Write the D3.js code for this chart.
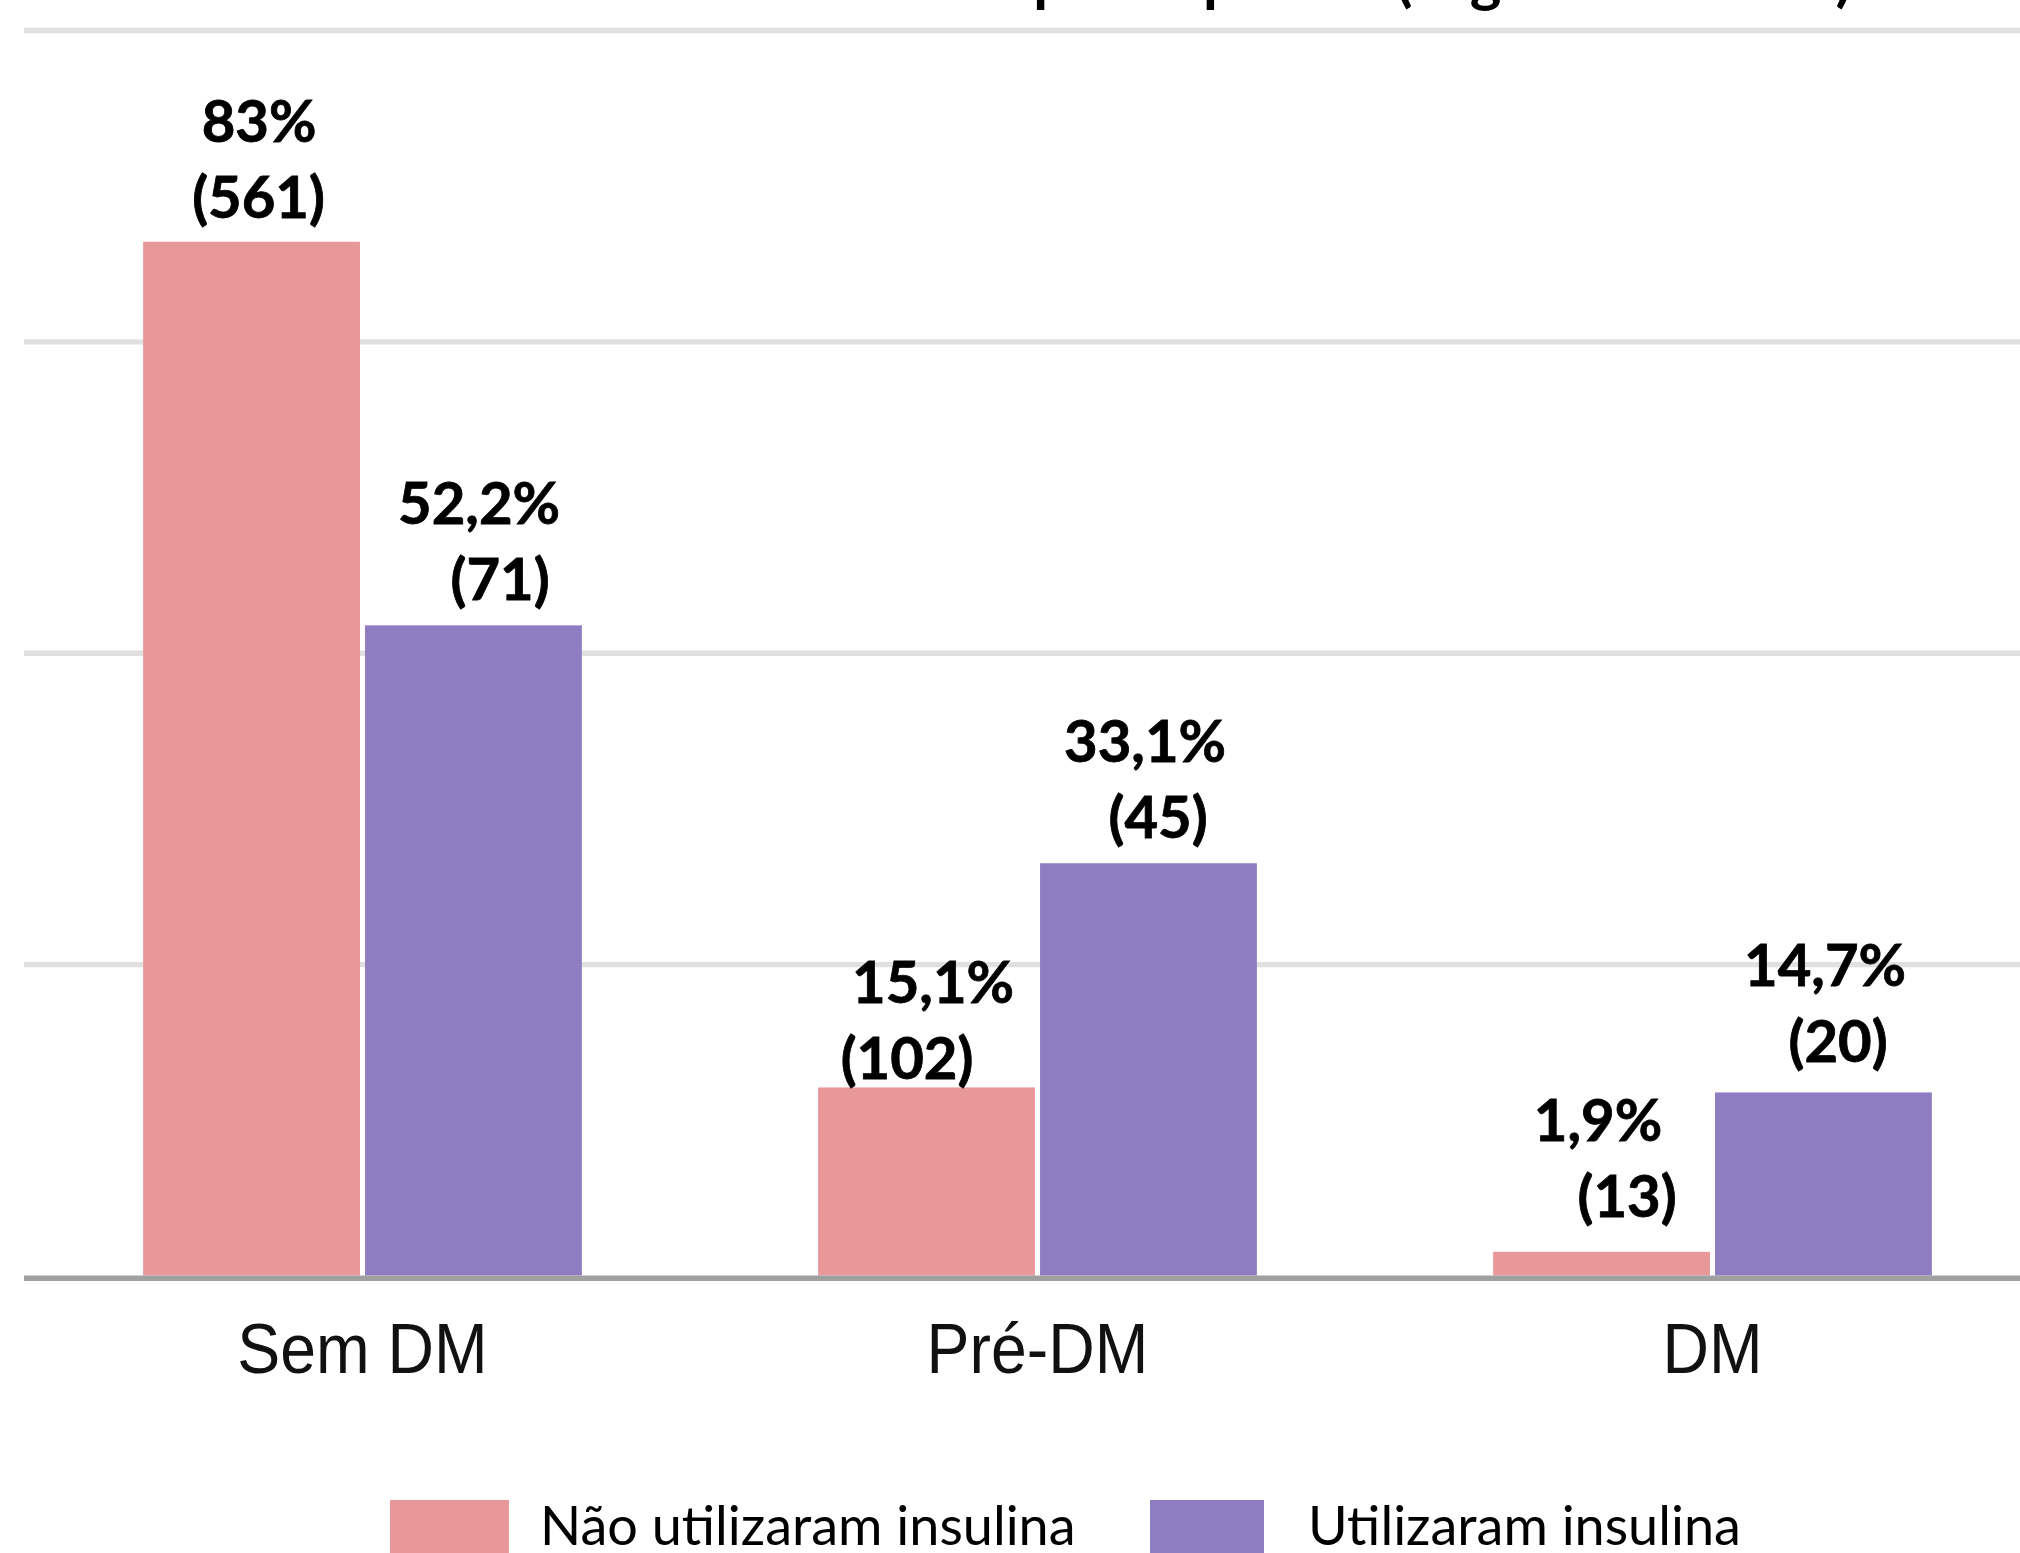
<!DOCTYPE html>
<html>
<head>
<meta charset="utf-8">
<script src="https://cdn.jsdelivr.net/npm/d3@7"></script>
<style>
  html, body { margin: 0; padding: 0; background: #ffffff; overflow: hidden; }
  svg { display: block; }
</style>
</head>
<body>
<svg id="chart" width="2020" height="1553"></svg>
<script>
// ---- data ----
const categories = ["Sem DM", "Pré-DM", "DM"];
const seriesNames = ["Não utilizaram insulina", "Utilizaram insulina"];
const pctNaoUtilizaram = [83, 15.1, 1.9];
const pctUtilizaram = [52.2, 33.1, 14.7];
const nNaoUtilizaram = [561, 102, 13];
const nUtilizaram = [71, 45, 20];
const yTicks = [0, 25, 50, 75, 100];
const titleText = "Perfil metabólico dos participantes (segundo HbA1c)";

// ---- layout / style (not data) ----
const W = 2020, H = 1553;
const colors = ["#e9989a", "#8e7ec1"];
const plotLeft = 24, zeroY = 1275.5, topY = 30;
// label nudges per [category][series]: [dx line1, dx line2, dy of line2 from bar top]
const labelNudge = [
  [[7.5, 7, -24], [5.6, 26.6, -25.6]],
  [[6.5, -19.5, -8], [-3.4, 9.6, -25.6]],
  [[-3.5, 25.5, -35], [1.6, 14.6, -30]]
];

const rows = categories.map((c, i) => ({
  cat: c,
  vals: [
    { s: 0, pct: pctNaoUtilizaram[i], n: nNaoUtilizaram[i] },
    { s: 1, pct: pctUtilizaram[i], n: nUtilizaram[i] }
  ]
}));

const svg = d3.select("#chart");

const x0 = d3.scaleBand().domain(categories).range([25, 2050])
  .paddingInner(0.35).paddingOuter(0.175);
const x1 = d3.scaleBand().domain([0, 1]).range([0, x0.bandwidth()]).paddingInner(0.0228);
const y = d3.scaleLinear().domain([0, 100]).range([zeroY, topY]);

const fmtPct = v => String(v).replace(".", ",") + "%";

// title (mostly cropped above the top edge)
svg.append("text")
  .attr("x", 1852).attr("y", 0)
  .attr("text-anchor", "end")
  .style("font-family", "Lato, 'Open Sans', sans-serif")
  .style("font-weight", "700")
  .style("font-size", "60px")
  .attr("fill", "#000")
  .text(titleText);

// gridlines
const grid = svg.append("g")
  .attr("transform", `translate(${plotLeft},0)`)
  .call(d3.axisLeft(y).tickValues(yTicks.filter(t => t > 0)).tickSize(-(W - plotLeft)).tickFormat(""));
grid.select(".domain").remove();
grid.selectAll(".tick line").attr("stroke", "#e0e0e0").attr("stroke-width", 5.3);

// bars
const groups = svg.append("g").selectAll("g.grp")
  .data(rows).join("g")
  .attr("class", "grp")
  .attr("transform", d => `translate(${x0(d.cat)},0)`);

groups.selectAll("rect")
  .data(d => d.vals).join("rect")
  .attr("x", d => x1(d.s))
  .attr("y", d => y(d.pct))
  .attr("width", x1.bandwidth())
  .attr("height", d => y(0) - y(d.pct))
  .attr("fill", d => colors[d.s]);

// value labels
groups.each(function (d, ci) {
  const g = d3.select(this);
  d.vals.forEach(v => {
    const nud = labelNudge[ci][v.s];
    const cx = x1(v.s) + x1.bandwidth() / 2;
    const base2 = y(v.pct) + nud[2];
    const t = g.append("text")
      .style("font-family", "Lato, 'Open Sans', sans-serif")
      .style("font-weight", "700")
      .style("font-size", "58px")
      .attr("fill", "#000")
      .attr("stroke", "#000").attr("stroke-width", 0.8)
      .attr("text-anchor", "middle");
    t.append("tspan").attr("x", cx + nud[0]).attr("y", base2 - 76).text(fmtPct(v.pct));
    t.append("tspan").attr("x", cx + nud[1]).attr("y", base2).text("(" + v.n + ")");
  });
});

// x axis
const xAxis = svg.append("g")
  .attr("transform", `translate(0,${zeroY + 2.75})`)
  .call(d3.axisBottom(x0).tickSize(0).tickSizeOuter(0));
xAxis.select(".domain")
  .attr("d", `M${plotLeft},0H${W}`)
  .attr("stroke", "#a0a0a0").attr("stroke-width", 5.5);
xAxis.selectAll(".tick text")
  .attr("y", 95).attr("dy", 0)
  .attr("transform", "scale(0.92,1)")
  .style("font-family", "'Liberation Sans', Arial, sans-serif")
  .style("font-size", "70px")
  .attr("fill", "#111");

// legend
const legendX = [390, 1150];
const legend = svg.append("g").selectAll("g")
  .data(seriesNames).join("g")
  .attr("transform", (d, i) => `translate(${legendX[i]},1500)`);
legend.append("rect")
  .attr("width", (d, i) => i === 0 ? 119 : 114)
  .attr("height", 80)
  .attr("fill", (d, i) => colors[i]);
legend.append("text")
  .attr("x", (d, i) => i === 0 ? 150 : 158)
  .attr("y", 45)
  .style("font-family", "Lato, 'Open Sans', sans-serif")
  .style("font-size", "54px")
  .attr("fill", "#000")
  .text(d => d);
</script>
</body>
</html>
